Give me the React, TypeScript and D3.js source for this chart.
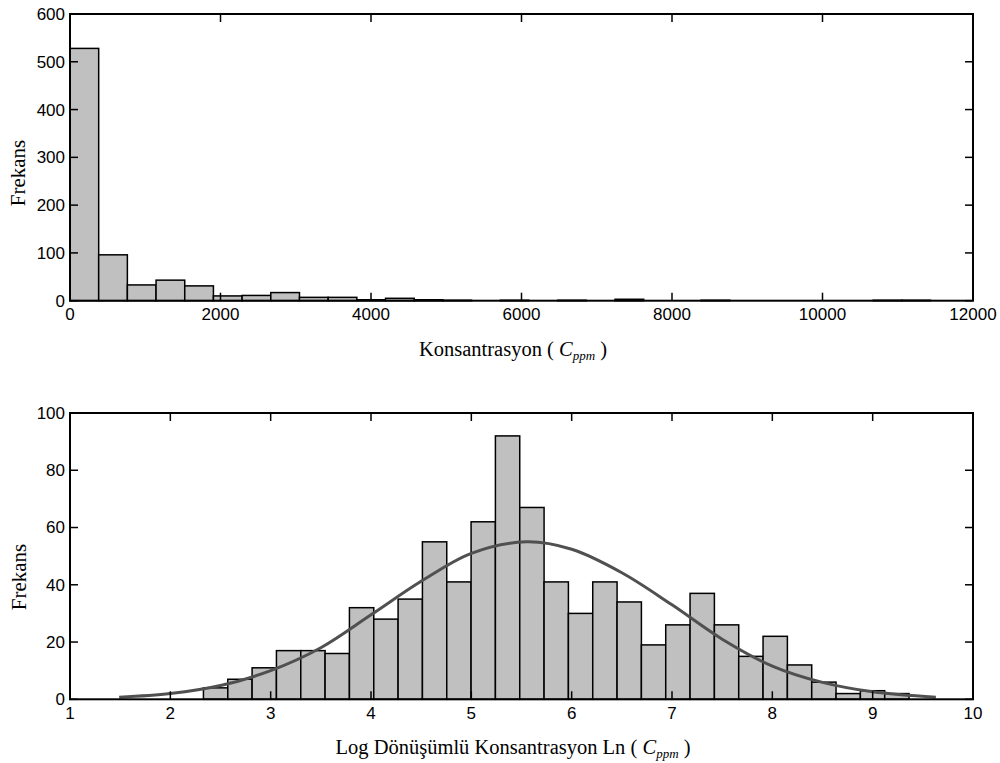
import React from "react";
import * as d3 from "d3";

// ---------- data ----------
const topCounts = [528, 96, 33, 43, 31, 10, 11, 17, 7, 7, 2, 5, 2, 1, 0, 1, 0, 1, 0, 3, 0, 0, 1, 0, 0, 0, 0, 0, 1, 1];
const topBinStart = 0;
const topBinWidth = 381.2;
const topXTicks = [0, 2000, 4000, 6000, 8000, 10000, 12000];
const topYTicks = [0, 100, 200, 300, 400, 500, 600];

const bottomCounts = [4, 7, 11, 17, 17, 16, 32, 28, 35, 55, 41, 62, 92, 67, 41, 30, 41, 34, 19, 26, 37, 26, 15, 22, 12, 6, 2, 3, 2];
const bottomBinStart = 2.33;
const bottomBinWidth = 0.2425;
const bottomXTicks = [1, 2, 3, 4, 5, 6, 7, 8, 9, 10];
const bottomYTicks = [0, 20, 40, 60, 80, 100];

// fitted curve
const curveX = [1.49, 2, 2.5, 3, 3.5, 4, 4.5, 5, 5.55, 6, 6.5, 7, 7.5, 8, 8.5, 9, 9.63];
const curveY = [0.7, 2, 4.8, 10, 18, 29.5, 41.2, 51, 55, 52.4, 44.2, 33, 21, 11.6, 5.9, 2.6, 0.7];

const LEFT = 70;
const RIGHT = 973;
const TICK = 8;
const sans = "'Liberation Sans', Arial, sans-serif";
const serif = "'Liberation Serif', 'Times New Roman', serif";

type PanelProps = {
  top: number;
  bottom: number;
  xDomain: [number, number];
  yDomain: [number, number];
  counts: number[];
  binStart: number;
  binWidth: number;
  xTicks: number[];
  yTicks: number[];
  curve?: boolean;
  title: React.ReactNode;
  yLabelY: number;
  yLabelX: number;
};

function Panel(p: PanelProps) {
  const x = d3.scaleLinear().domain(p.xDomain).range([LEFT, RIGHT]);
  const y = d3.scaleLinear().domain(p.yDomain).range([p.bottom, p.top]);
  const bars = p.counts.map((c, i) => ({
    x0: p.binStart + i * p.binWidth,
    x1: p.binStart + (i + 1) * p.binWidth,
    c,
  }));
  let path: string | null = null;
  if (p.curve) {
    const pts: [number, number][] = curveX.map((v, i) => [v, curveY[i]]);
    path = d3
      .line<[number, number]>()
      .x((d) => x(d[0]))
      .y((d) => y(d[1]))
      .curve(d3.curveCatmullRom.alpha(0.5))(pts);
  }
  return (
    <g>
      {bars
        .filter((b) => b.c > 0)
        .map((b, i) => (
          <rect
            key={i}
            x={x(b.x0)}
            y={y(b.c)}
            width={x(b.x1) - x(b.x0)}
            height={y(0) - y(b.c)}
            fill="#c0c0c0"
            stroke="#000"
            strokeWidth={1.5}
          />
        ))}
      {path && <path d={path} fill="none" stroke="#505050" strokeWidth={3} />}
      {p.xTicks.map((t) => (
        <g key={"xt" + t}>
          <line x1={x(t)} x2={x(t)} y1={p.bottom} y2={p.bottom - TICK} stroke="#000" strokeWidth={1.5} />
          <line x1={x(t)} x2={x(t)} y1={p.top} y2={p.top + TICK} stroke="#000" strokeWidth={1.5} />
          <text x={x(t)} y={p.bottom + 19.5} textAnchor="middle" fontFamily={sans} fontSize={17} fill="#000">
            {t}
          </text>
        </g>
      ))}
      {p.yTicks.map((t) => (
        <g key={"yt" + t}>
          <line x1={LEFT} x2={LEFT + TICK} y1={y(t)} y2={y(t)} stroke="#000" strokeWidth={1.5} />
          <line x1={RIGHT} x2={RIGHT - TICK} y1={y(t)} y2={y(t)} stroke="#000" strokeWidth={1.5} />
          <text x={65} y={y(t)} dy="0.35em" textAnchor="end" fontFamily={sans} fontSize={17} fill="#000">
            {t}
          </text>
        </g>
      ))}
      <rect x={LEFT} y={p.top} width={RIGHT - LEFT} height={p.bottom - p.top} fill="none" stroke="#000" strokeWidth={2} />
      <text
        transform={`translate(${p.yLabelX},${p.yLabelY}) rotate(-90)`}
        textAnchor="middle"
        dy="0.35em"
        fontFamily={serif}
        fontSize={21}
        fill="#000"
      >
        Frekans
      </text>
      <text x={513} y={p.bottom + 55} textAnchor="middle" fontFamily={serif} fontSize={20.5} fill="#000">
        {p.title}
      </text>
    </g>
  );
}

export default function App() {
  return (
    <svg
      width={1000}
      height={763}
      style={{ position: "absolute", left: 0, top: 0, background: "#fff" }}
    >
      <Panel
        top={14}
        bottom={300.7}
        xDomain={[0, 12000]}
        yDomain={[0, 600]}
        counts={topCounts}
        binStart={topBinStart}
        binWidth={topBinWidth}
        xTicks={topXTicks}
        yTicks={topYTicks}
        yLabelX={18}
        yLabelY={173}
        title={
          <>
            Konsantrasyon ({" "}
            <tspan fontStyle="italic">C</tspan>
            <tspan fontStyle="italic" fontSize={13} dy={4}>ppm</tspan>
            <tspan dy={-4}> )</tspan>
          </>
        }
      />
      <Panel
        top={413}
        bottom={699.3}
        xDomain={[1, 10]}
        yDomain={[0, 100]}
        counts={bottomCounts}
        binStart={bottomBinStart}
        binWidth={bottomBinWidth}
        xTicks={bottomXTicks}
        yTicks={bottomYTicks}
        curve
        yLabelX={19}
        yLabelY={577}
        title={
          <>
            Log Dönüşümlü Konsantrasyon Ln ({" "}
            <tspan fontStyle="italic">C</tspan>
            <tspan fontStyle="italic" fontSize={13} dy={4}>ppm</tspan>
            <tspan dy={-4}> )</tspan>
          </>
        }
      />
    </svg>
  );
}
